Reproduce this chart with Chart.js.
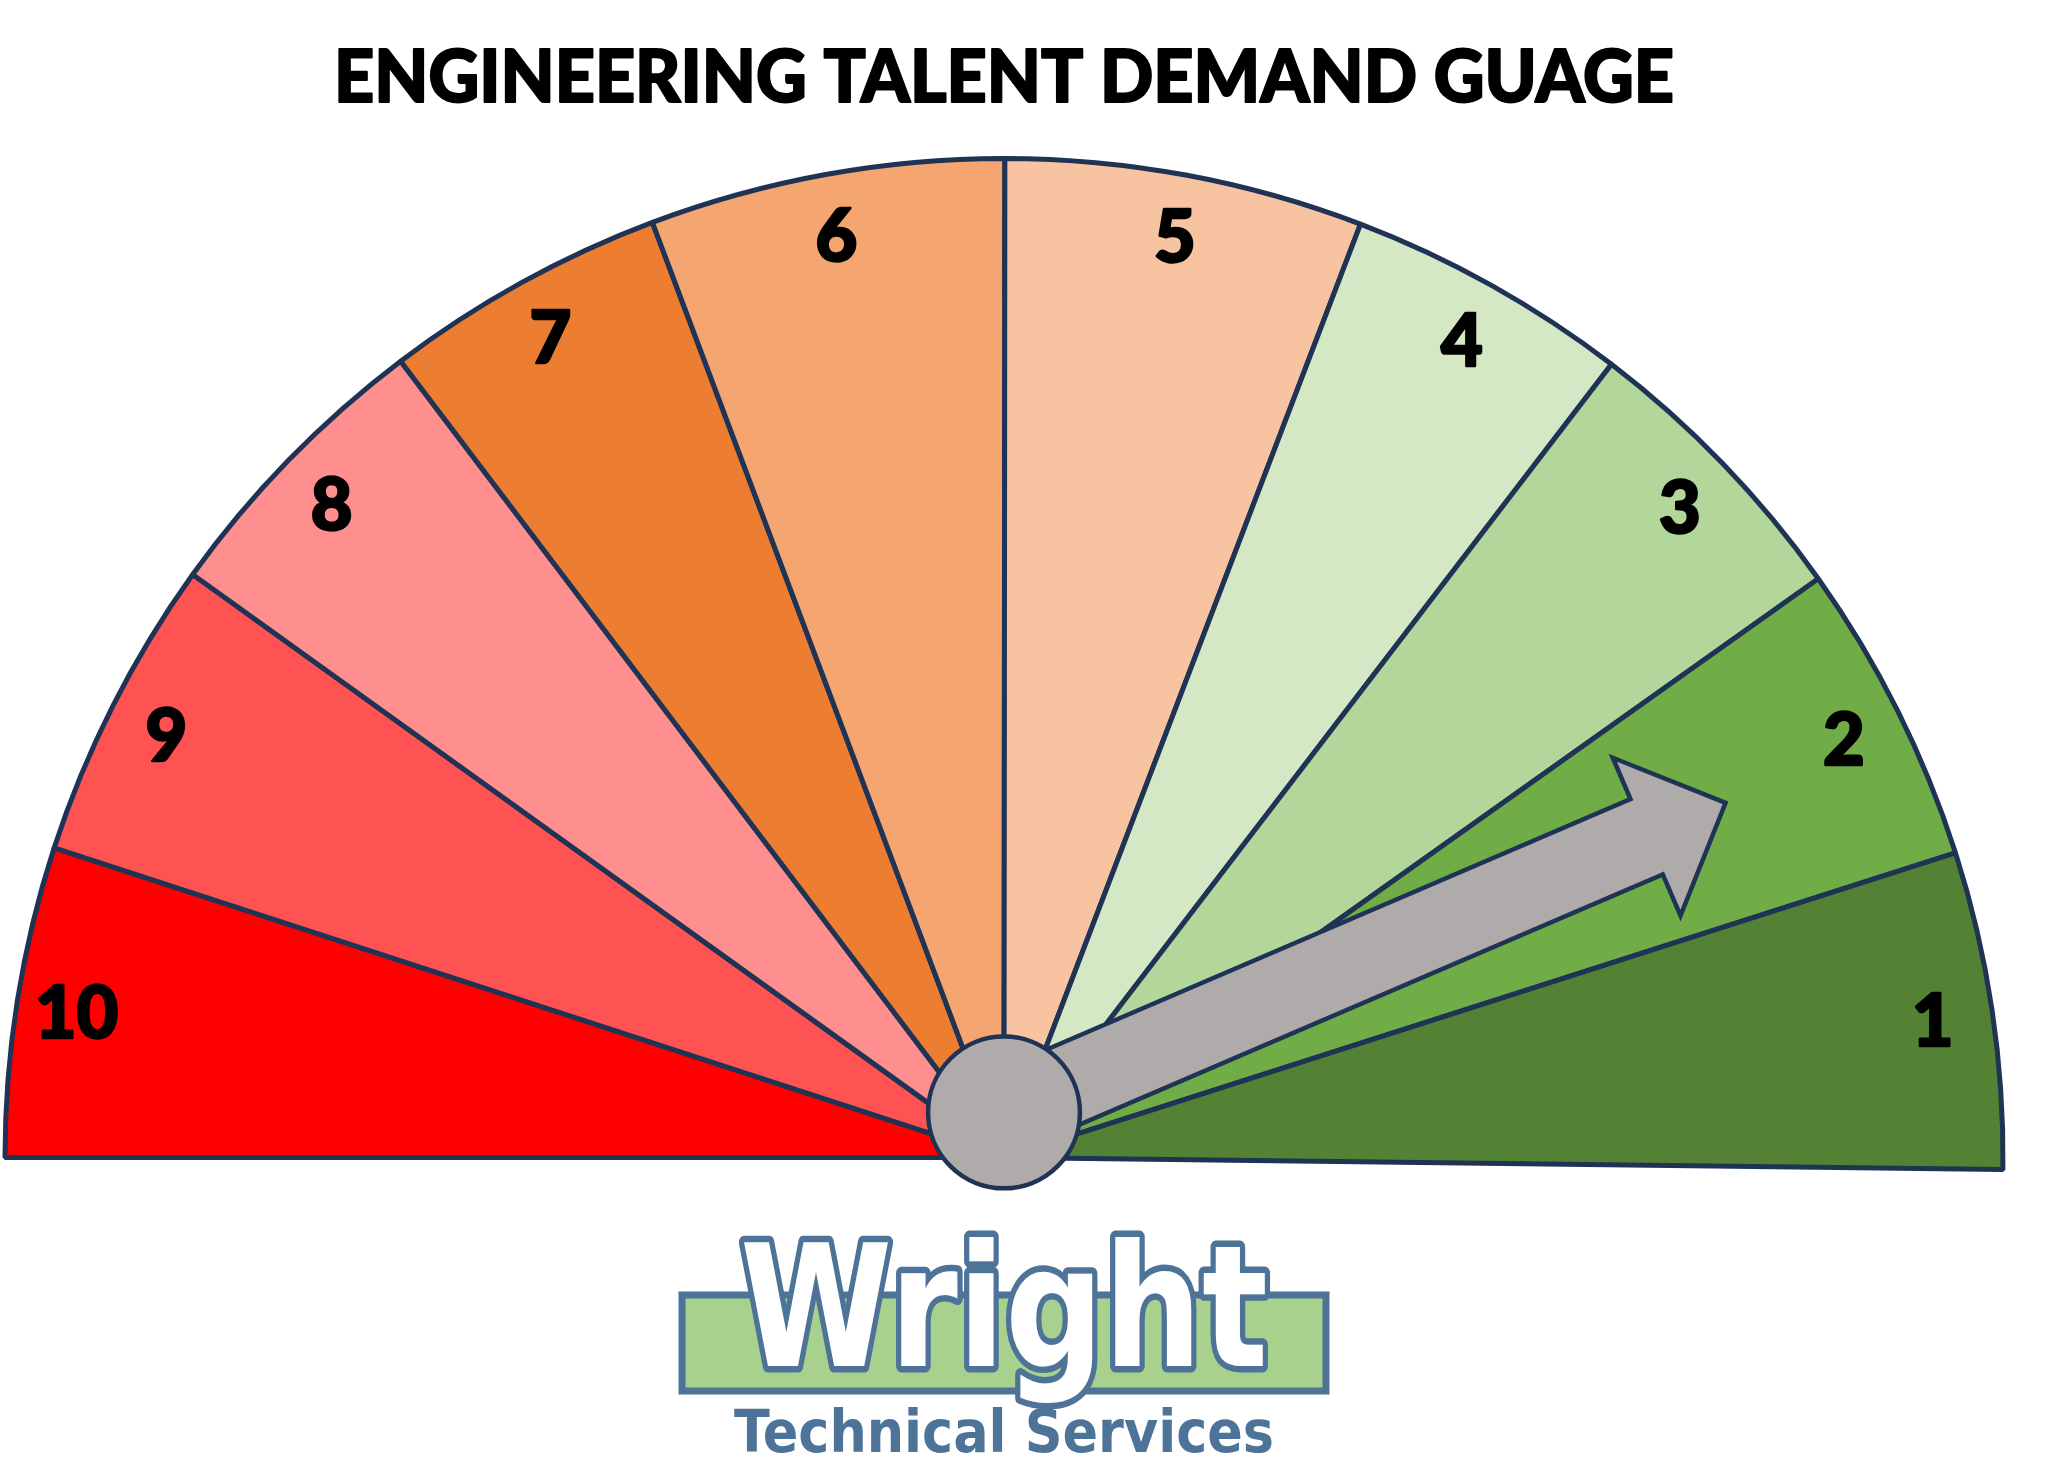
<!DOCTYPE html>
<html>
<head>
<meta charset="utf-8">
<script src="https://cdn.jsdelivr.net/npm/chart.js@4.4.1/dist/chart.umd.min.js"></script>
<style>
  html, body { margin: 0; padding: 0; background: #ffffff; }
  #wrap { width: 2048px; height: 1479px; position: relative; }
</style>
</head>
<body>
<div id="wrap"><canvas id="c" width="2048" height="1479"></canvas></div>
<script>
// ---- data ----
const titleText = 'ENGINEERING TALENT DEMAND GUAGE';
const categories = ['10', '9', '8', '7', '6', '5', '4', '3', '2', '1'];
// angular size of each band (degrees)
const segmentValues = [18.0, 17.6, 17.1, 16.5, 20.6, 20.8, 16.5, 17.1, 17.6, 18.4];
const segmentColors = ['#FF0000', '#FF5353', '#FF8F8F', '#ED7D31', '#F4A570',
                       '#F8C3A0', '#D4E8C6', '#B3D69A', '#70AD47', '#548235'];
const needleValue = 1.31;   // on the 0 (right) .. 10 (left) band scale
const logoWord = 'Wright';
const logoSub = 'Technical Services';

const NAVY = '#1F3355';
const LOGO_BLUE = '#4E7399';
const LOGO_GREEN = '#A9D18E';
const GREY = '#AFABAB';

const gaugePlugin = {
  id: 'gauge',
  afterDatasetsDraw(chart) {
    const ctx = chart.ctx;
    const arcs = chart.getDatasetMeta(0).data;
    const n = arcs.length;
    const first = arcs[0];
    const cx = first.x, cy = first.y, R = first.outerRadius;

    // segment numbers
    ctx.save();
    ctx.fillStyle = '#000000';
    ctx.strokeStyle = '#000000';
    ctx.lineWidth = 2.5;
    ctx.lineJoin = 'round';
    ctx.font = '900 72px Lato';
    ctx.textAlign = 'center';
    ctx.textBaseline = 'alphabetic';
    arcs.forEach((arc, i) => {
      const mid = (arc.startAngle + arc.endAngle) / 2;
      const r = R * 0.94;
      const x = cx + Math.cos(mid) * r;
      const y = cy + Math.sin(mid) * r;
      ctx.fillText(categories[i], x, y + 28);
      ctx.strokeText(categories[i], x, y + 28);
    });
    ctx.restore();

    // needle arrow
    const k = Math.min(Math.floor(needleValue), n - 1);
    const frac = needleValue - k;
    const seg = arcs[n - 1 - k];
    const ang = seg.endAngle - frac * (seg.endAngle - seg.startAngle);
    const ox = cx, oy = cy - 0.045 * R;
    const h = 0.041 * R, H = 0.086 * R, base = 0.70 * R, tip = 0.786 * R;
    ctx.save();
    ctx.translate(ox, oy);
    ctx.rotate(ang);
    ctx.beginPath();
    ctx.moveTo(0, -h);
    ctx.lineTo(base, -h);
    ctx.lineTo(base, -H);
    ctx.lineTo(tip, 0);
    ctx.lineTo(base, H);
    ctx.lineTo(base, h);
    ctx.lineTo(0, h);
    ctx.closePath();
    ctx.fillStyle = GREY;
    ctx.fill();
    ctx.lineWidth = 4.5;
    ctx.lineJoin = 'miter';
    ctx.strokeStyle = NAVY;
    ctx.stroke();
    ctx.restore();

    // hub circle
    ctx.save();
    ctx.beginPath();
    ctx.arc(ox, oy, 0.076 * R, 0, Math.PI * 2);
    ctx.fillStyle = GREY;
    ctx.fill();
    ctx.lineWidth = 4.5;
    ctx.strokeStyle = NAVY;
    ctx.stroke();
    ctx.restore();
  },
  afterDraw(chart) {
    const ctx = chart.ctx;
    const arc = chart.getDatasetMeta(0).data[0];
    const cx = arc.x;

    // title (stretched to the reference width)
    ctx.save();
    ctx.font = '900 72px Lato';
    ctx.fillStyle = '#000000';
    ctx.strokeStyle = '#000000';
    ctx.lineWidth = 2;
    ctx.lineJoin = 'round';
    ctx.textBaseline = 'alphabetic';
    ctx.textAlign = 'center';
    const tw = ctx.measureText(titleText).width;
    ctx.translate(cx, 102);
    ctx.scale(1340 / tw, 1);
    ctx.fillText(titleText, 0, 0);
    ctx.strokeText(titleText, 0, 0);
    ctx.restore();

    // logo
    ctx.save();
    ctx.fillStyle = LOGO_GREEN;
    ctx.fillRect(cx - 322, 1295, 644, 96);
    ctx.lineWidth = 7;
    ctx.strokeStyle = LOGO_BLUE;
    ctx.strokeRect(cx - 322, 1295, 644, 96);

    ctx.font = 'bold 170px "DejaVu Sans"';
    ctx.textAlign = 'center';
    ctx.textBaseline = 'alphabetic';
    ctx.lineJoin = 'round';
    const ww = ctx.measureText(logoWord).width;
    ctx.save();
    ctx.translate(cx, 1366);
    ctx.scale(528 / ww, 1);
    ctx.lineWidth = 13;
    ctx.strokeStyle = LOGO_BLUE;
    ctx.strokeText(logoWord, 0, 0);
    ctx.fillStyle = '#FFFFFF';
    ctx.fillText(logoWord, 0, 0);
    ctx.restore();

    ctx.font = 'bold 58px "DejaVu Sans"';
    const sw = ctx.measureText(logoSub).width;
    ctx.save();
    ctx.translate(cx, 1452);
    ctx.scale(540 / sw, 1);
    ctx.fillStyle = LOGO_BLUE;
    ctx.fillText(logoSub, 0, 0);
    ctx.restore();
    ctx.restore();
  }
};

new Chart(document.getElementById('c'), {
  type: 'doughnut',
  data: {
    labels: categories,
    datasets: [{
      data: segmentValues,
      backgroundColor: segmentColors,
      borderColor: NAVY,
      borderWidth: 5,
      hoverOffset: 0,
      radius: 999
    }]
  },
  options: {
    responsive: false,
    devicePixelRatio: 1,
    animation: false,
    rotation: -90,
    circumference: 180.7,
    cutout: 0,
    layout: { padding: { left: 3, right: 43, top: 156, bottom: 307 } },
    plugins: {
      legend: { display: false },
      title: { display: false },
      tooltip: { enabled: false }
    }
  },
  plugins: [gaugePlugin]
});
</script>
</body>
</html>
